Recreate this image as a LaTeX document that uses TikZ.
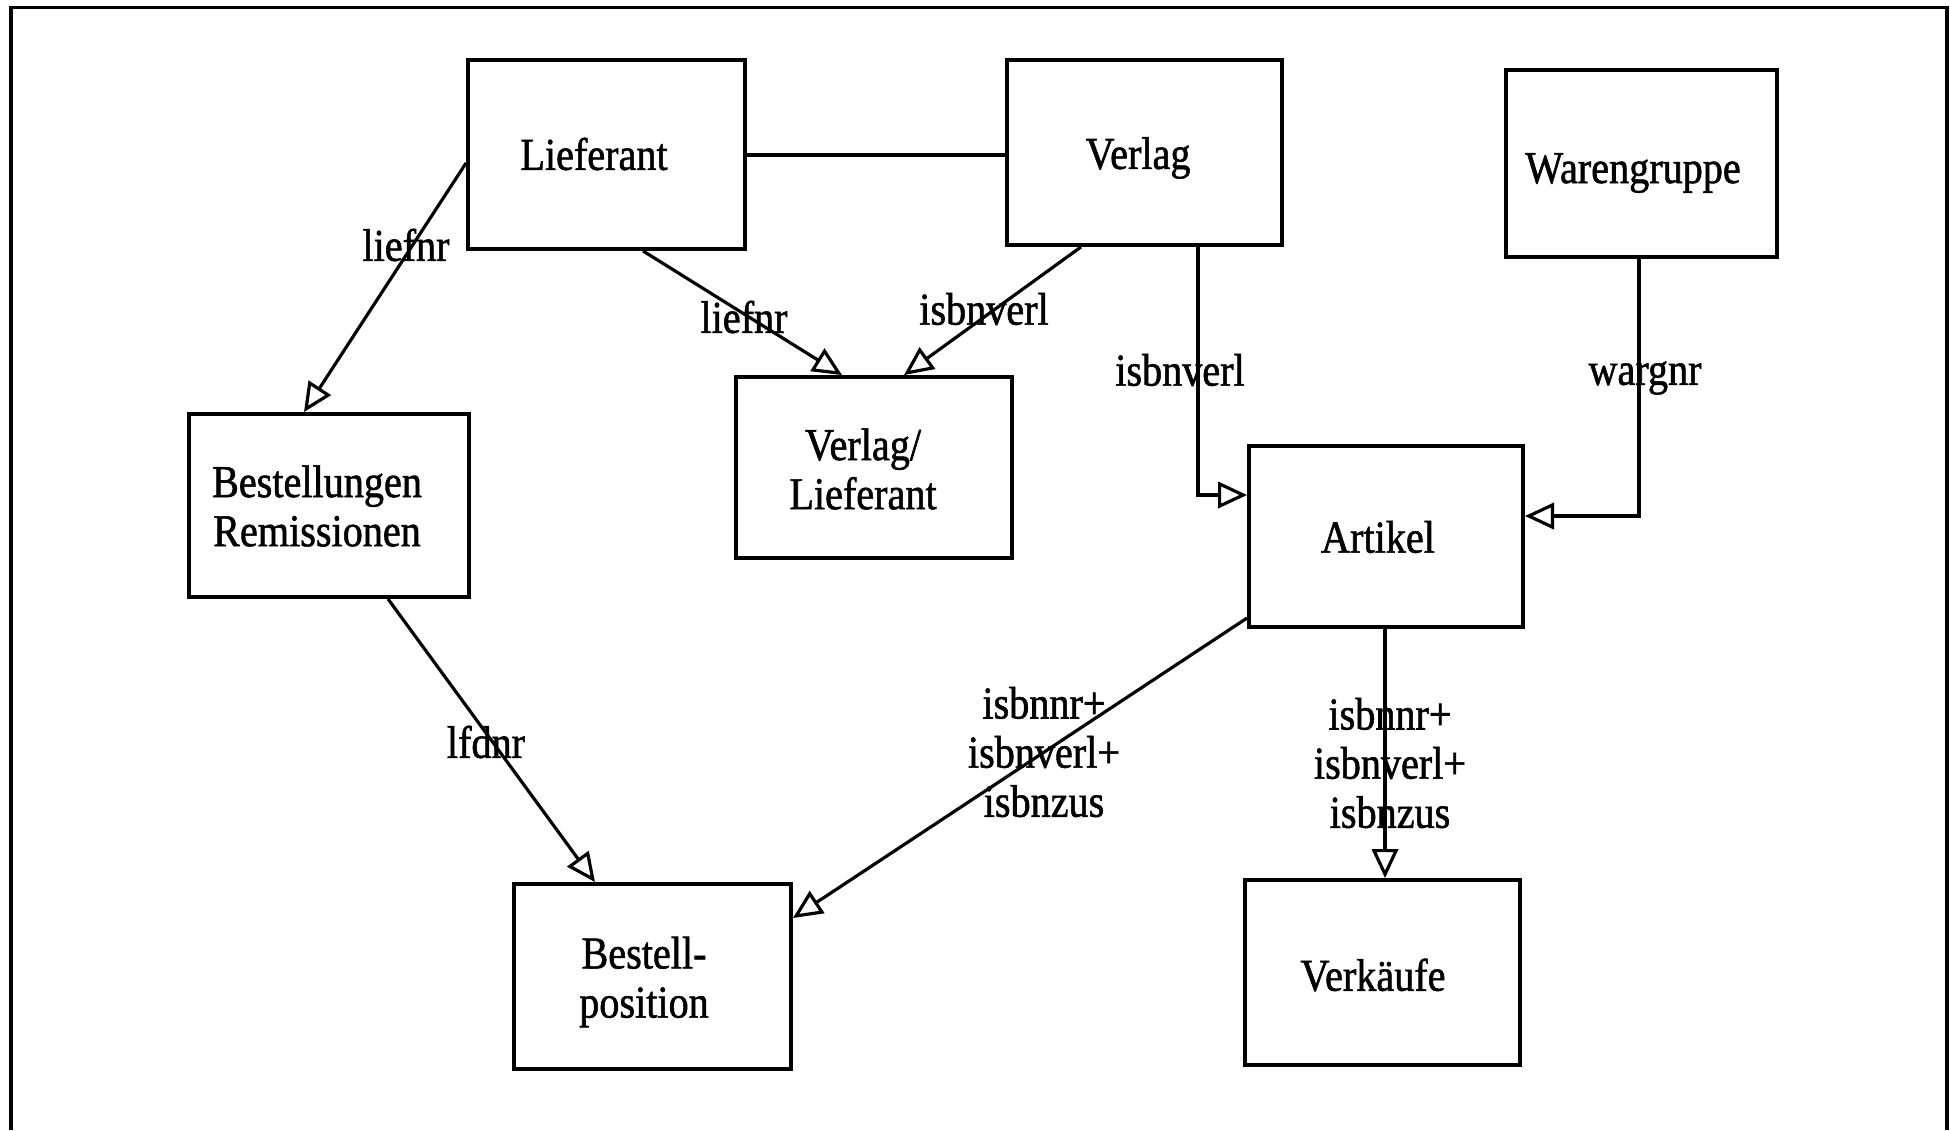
\documentclass[tikz,border=0pt]{standalone}
\usepackage{fontspec}
\setmainfont{Liberation Serif}[FakeStretch=0.88, FakeBold=1.2]
\usetikzlibrary{arrows.meta,fit}
\begin{document}
\begin{tikzpicture}[x=0.254mm,y=-0.254mm,
  box/.style={draw, line width=2.8pt, inner sep=0pt, rectangle},
  ttl/.style={font=\fontsize{33}{35.5}\selectfont, align=center, inner sep=0pt},
  lbl/.style={font=\fontsize{33}{35.5}\selectfont, align=center, inner sep=0pt},
  link/.style={line width=2.3pt},
  rel/.style={link, -{Triangle[open, length=21pt, width=19pt]}},
]
\useasboundingbox (0,0) rectangle (1950,1130);
% page frame
\draw[line width=2.6pt] (11,1130) -- (11,7.5) -- (1947,7.5) -- (1947,1130);

% entity boxes
\node[box, fit={(468,60) (745,249)}] (lief) {};
\node[box, fit={(1007,60) (1282,245)}] (verl) {};
\node[box, fit={(1506,70) (1777,257)}] (warg) {};
\node[box, fit={(189,414) (469,597)}] (best) {};
\node[box, fit={(736,377) (1012,558)}] (vlief) {};
\node[box, fit={(1249,446) (1523,627)}] (art) {};
\node[box, fit={(514,884) (791,1069)}] (bpos) {};
\node[box, fit={(1245,880) (1520,1065)}] (verk) {};

% entity names
\node[ttl] (liefT) at (594,154) {Lieferant};
\node[ttl] (verlT) at (1138,158) {Verlag};
\node[ttl] (wargT) at (1633,173) {Warengruppe};
\node[ttl] (bestT) at (317,506) {Bestellungen\\Remissionen};
\node[ttl] (vliefT) at (863,469) {Verlag/\\Lieferant};
\node[ttl] (artT) at (1378,537) {Artikel};
\node[ttl] (bposT) at (644,982) {Bestell-\\position};
\node[ttl] (verkT) at (1373,975) {Verkäufe};

% relationships
\draw[link] (lief.east |- 0,155) -- (verl.west |- 0,155);
\draw[rel] (lief.west |- 0,163) -- (304,0 |- best.north);
\draw[rel] (643,0 |- lief.south) -- (842,0 |- vlief.north);
\draw[rel] (1081,0 |- verl.south) -- (904,0 |- vlief.north);
\draw[rel] (1198,0 |- verl.south) |- (art.west |- 0,495);
\draw[rel] (1639,0 |- warg.south) |- (art.east |- 0,516);
\draw[rel] (388,0 |- best.south) -- (595,0 |- bpos.north);
\draw[rel] (art.west |- 0,618) -- (bpos.east |- 0,918);
\draw[rel] (1385,0 |- art.south) -- (1385,0 |- verk.north);

% key attributes on the links
\node[lbl] (l1) at (406,245) {liefnr};
\node[lbl] (l2) at (744,317) {liefnr};
\node[lbl] (l3) at (984,309) {isbnverl};
\node[lbl] (l4) at (1180,370) {isbnverl};
\node[lbl] (l5) at (1645,378) {wargnr};
\node[lbl] (l6) at (486,742) {lfdnr};
\node[lbl] (l7) at (1044,752) {isbnnr+\\isbnverl+\\isbnzus};
\node[lbl] (l8) at (1390,763) {isbnnr+\\isbnverl+\\isbnzus};
\end{tikzpicture}
\end{document}
